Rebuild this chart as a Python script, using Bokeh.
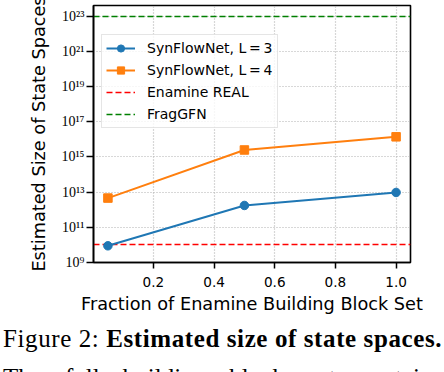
from bokeh.plotting import figure
from bokeh.models import (Range1d, FixedTicker, CustomJSTickFormatter, NumeralTickFormatter,
                          Legend, LegendItem, Div)
from bokeh.layouts import column
from bokeh.embed import file_html
from bokeh.resources import INLINE

# ---- data ----
fractions = [0.05, 0.5, 1.0]
synflownet_L3 = [8.9e9, 1.75e12, 9.6e12]
synflownet_L4 = [4.6e12, 2.5e15, 1.4e16]
enamine_real = [1.0e10]
fraggfn = [1.0e23]

x_ticks = [0.2, 0.4, 0.6, 0.8, 1.0]
y_tick_exponents = [9, 11, 13, 15, 17, 19, 21, 23]
y_tick_labels = ["10⁹", "10¹¹", "10¹³", "10¹⁵", "10¹⁷", "10¹⁹", "10²¹", "10²³"]

series_labels = ["SynFlowNet, L\u2009=\u20093", "SynFlowNet, L\u2009=\u20094", "Enamine REAL", "FragGFN"]
x_label = "Fraction of Enamine Building Block Set"
y_label = "Estimated Size of State Spaces"

BLUE, ORANGE = "#1f77b4", "#ff7f0e"

p = figure(width=444, height=322, output_backend="svg", toolbar_location=None,
           x_range=Range1d(0.0025, 1.0475), y_range=Range1d(1e9, 4.1e23),
           y_axis_type="log", min_border_left=93, min_border_right=34,
           min_border_top=5, min_border_bottom=60)
p.margin = 0
p.background_fill_color = "white"
p.border_fill_color = "white"
p.outline_line_color = "black"
p.outline_line_width = 1.6
p.outline_line_alpha = 1.0

# axes
p.xaxis.ticker = FixedTicker(ticks=x_ticks)
p.xaxis.formatter = NumeralTickFormatter(format="0.0")
p.yaxis.ticker = FixedTicker(ticks=[10.0 ** e for e in y_tick_exponents])
p.yaxis.formatter = CustomJSTickFormatter(
    args=dict(exps=y_tick_exponents, labels=y_tick_labels),
    code="""
const e = Math.round(Math.log10(tick));
const i = exps.indexOf(e);
return i >= 0 ? labels[i] : "";
""")
for ax in (p.xaxis[0], p.yaxis[0]):
    ax.axis_line_color = "black"
    ax.axis_line_width = 1.6
    ax.major_tick_line_color = "black"
    ax.major_tick_line_width = 1.5
    ax.major_tick_in = 0
    ax.minor_tick_line_color = None
    ax.axis_label_text_font = "DejaVu Sans"
    ax.axis_label_text_font_style = "normal"
    ax.axis_label_text_font_size = "17.7px"
    ax.axis_label_text_color = "black"
    ax.major_label_text_color = "black"

p.xaxis.major_tick_out = 6
p.xaxis.major_label_standoff = 8
p.xaxis.major_label_text_font = "DejaVu Sans"
p.xaxis.major_label_text_font_size = "13.6px"
p.xaxis.axis_label = x_label
p.xaxis.axis_label_standoff = 4

p.yaxis.major_tick_out = 7
p.yaxis.major_label_standoff = 2
p.yaxis.major_label_text_font = "Liberation Serif"
p.yaxis.major_label_text_font_size = "14px"
p.yaxis.axis_label = y_label
p.yaxis.axis_label_standoff = 9

for g in (p.xgrid[0], p.ygrid[0]):
    g.grid_line_color = "#b0b0b0"
    g.grid_line_dash = "1 2"
    g.grid_line_width = 1.2

# reference lines (full-width spans)
hr = p.hspan(y=enamine_real, line_color="red", line_dash="6 3", line_width=1.6)
hg = p.hspan(y=fraggfn, line_color="green", line_dash="6 3", line_width=1.6)

# series
l3 = p.line(fractions, synflownet_L3, line_color=BLUE, line_width=2)
s3 = p.scatter(fractions, synflownet_L3, marker="circle", size=8.5,
               fill_color=BLUE, line_color=BLUE)
l4 = p.line(fractions, synflownet_L4, line_color=ORANGE, line_width=2)
s4 = p.scatter(fractions, synflownet_L4, marker="square", size=8.5,
               fill_color=ORANGE, line_color=ORANGE)

# hidden line proxies so the spans get legend glyphs
dr = p.line(x=fractions, y=enamine_real * len(fractions), line_color="red",
            line_dash="6 3", line_width=1.6, visible=False)
dg = p.line(x=fractions, y=fraggfn * len(fractions), line_color="green",
            line_dash="6 3", line_width=1.6, visible=False)

legend = Legend(items=[
    LegendItem(label=series_labels[0], renderers=[l3, s3]),
    LegendItem(label=series_labels[1], renderers=[l4, s4]),
    LegendItem(label=series_labels[2], renderers=[dr]),
    LegendItem(label=series_labels[3], renderers=[dg]),
], location=(8, 134))
legend.label_text_font = "DejaVu Sans"
legend.label_text_font_size = "14px"
legend.label_text_color = "black"
legend.glyph_width = 29
legend.glyph_height = 18
legend.label_height = 18
legend.label_standoff = 12
legend.spacing = 4
legend.padding = 4
legend.margin = 0
legend.border_line_color = "#cccccc"
legend.border_line_width = 1
legend.background_fill_color = "white"
legend.background_fill_alpha = 0.8
legend.inactive_fill_alpha = 0.0
p.add_layout(legend, "center")

caption_html = (
    "<div style=\"font-family:'Liberation Serif','Times New Roman',serif;font-size:25px;"
    "color:black;white-space:nowrap;padding:5px 3px 0 3px;letter-spacing:0.6px;\">"
    "<div style=\"line-height:24px;margin-bottom:15px;\">Figure 2: "
    "<b>Estimated size of state spaces.</b></div>"
    "<div style=\"line-height:24px;text-align:justify;text-align-last:justify;"
    "white-space:normal;letter-spacing:0;\">"
    "The full building block set contains</div></div>"
)
cap = Div(text=caption_html, width=444, height=50, margin=0,
          styles={"overflow": "hidden"})

layout = column(p, cap, spacing=0, margin=0)

open("out.html", "w").write(file_html(layout, INLINE))
